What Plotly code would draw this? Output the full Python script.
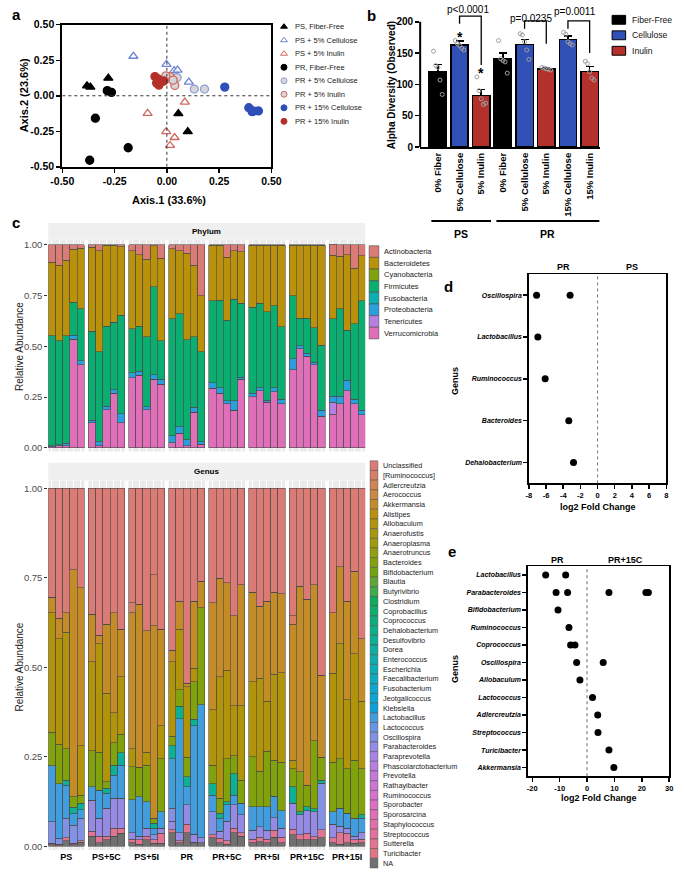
import math
import plotly.graph_objects as go

W, H = 685, 877
FONT = "Liberation Sans, Arial, Helvetica, sans-serif"

# ============================ DATA ============================
# (a) PCoA
pcoa_groups = ["PS, Fiber-Free", "PS + 5% Cellulose", "PS + 5% Inulin", "PR, Fiber-Free",
               "PR + 5% Cellulose", "PR + 5% Inulin", "PR + 15% Cellulose", "PR + 15% Inulin"]
pcoa_x = [
    [-0.382, -0.366, -0.280, 0.055, 0.100],
    [-0.160, -0.002, 0.035, 0.051, 0.105],
    [-0.092, -0.003, 0.037, 0.015, 0.086],
    [-0.285, -0.265, -0.342, -0.185, -0.369],
    [-0.003, 0.018, 0.049, 0.131, 0.180],
    [0.015, 0.038, -0.020, 0.030, -0.005],
    [0.277, 0.392, 0.408, 0.415, 0.438],
    [-0.057, -0.043, -0.049, -0.038, -0.015],
]
pcoa_y = [
    [0.070, 0.061, 0.124, -0.126, -0.253],
    [0.278, 0.221, 0.177, 0.181, 0.096],
    [-0.124, -0.253, -0.294, -0.350, -0.045],
    [0.036, 0.024, -0.158, -0.366, -0.454],
    [0.119, 0.119, 0.128, 0.047, 0.047],
    [0.135, 0.073, 0.100, 0.110, 0.140],
    [0.061, -0.084, -0.112, -0.107, -0.107],
    [0.135, 0.119, 0.089, 0.075, 0.105],
]
pcoa_tickvals = [-0.5, -0.25, 0.0, 0.25, 0.5]
pcoa_ticktext = ["-0.50", "-0.25", "0.00", "0.25", "0.50"]

# (b) alpha diversity
alpha_labels = ["0% Fiber", "5% Cellulose", "5% Inulin", "0% Fiber", "5% Cellulose",
                "5% Inulin", "15% Cellulose", "15% Inulin"]
alpha_fiber = ["Fiber-Free", "Cellulose", "Inulin", "Fiber-Free", "Cellulose",
               "Inulin", "Cellulose", "Inulin"]
alpha_mean = [120, 163, 82, 141, 164, 125, 172, 121]
alpha_sem = [12, 6, 10, 9, 8, 2, 5, 8]
alpha_points = [
    [153, 130, 127, 107, 84],
    [170, 165, 162, 158, 155],
    [112, 90, 77, 68, 70],
    [170, 141, 138, 136, 118],
    [181, 179, 168, 155, 140],
    [127, 126, 125, 124, 123],
    [183, 180, 168, 165, 163],
    [137, 133, 120, 110, 107],
]
alpha_star = [False, True, True, False, False, False, False, False]
alpha_pvals = [(1, 2, "p&lt;0.0001"), (4, 5, "p=0.0235"), (6, 7, "p=0.0011")]
alpha_groups = [("PS", 0, 2), ("PR", 3, 7)]
fiber_types = ["Fiber-Free", "Cellulose", "Inulin"]

# (c) taxa bar plots
facets = ["PS", "PS+5C", "PS+5I", "PR", "PR+5C", "PR+5I", "PR+15C", "PR+15I"]
phylum_names = ["Actinobacteria", "Bacteroidetes", "Cyanobacteria", "Firmicutes",
                "Fusobacteria", "Proteobacteria", "Tenericutes", "Verrucomicrobia"]
actinobacteria = [.087, .10, .077, .023, .018, .013, .029, .003, .003, .01,
                  .031, .05, .071, .006, .066, .021, .031, .042, .10, .252,
                  .003, .003, .061, .029, .034, .002, .002, .003, .002, .002,
                  .002, .002, .002, .002, .002, .053, .058, .05, .115, .055]
bacteroidetes = [.361, .374, .371, .261, .298, .413, .497, .399, .378, .338,
                 .382, .352, .382, .20, .407, .344, .309, .427, .353, .274,
                 .273, .27, .312, .239, .255, .306, .287, .326, .298, .403,
                 .25, .359, .359, .408, .492, .312, .258, .371, .274, .221]
cyanobacteria = [0] * 40
firmicutes = [.542, .51, .53, .161, .255, .439, .444, .393, .332, .484,
              .218, .221, .344, .433, .19, .575, .557, .49, .347, .443,
              .403, .43, .395, .5, .363, .424, .414, .436, .403, .355,
              .309, .136, .173, .169, .322, .382, .431, .247, .371, .54]
fusobacteria = [0] * 40
proteobacteria = [.004, .006, .012, .02, .019, .011, .02, .018, .019, .044,
                  .024, .019, .016, .024, .024, .035, .032, .03, .024, .012,
                  .027, .029, .016, .048, .011, .016, .016, .011, .021, .024,
                  .054, .016, .016, .011, .029, .029, .037, .051, .024, .021]
tenericutes = [0] * 35 + [.06, 0, 0, 0, 0]
verrucomicrobia = [.006, .01, .01, .535, .41, .124, .01, .187, .268, .124,
                   .345, .358, .187, .337, .313, .025, .071, .011, .176, .019,
                   .294, .268, .216, .184, .337, .252, .281, .224, .276, .216,
                   .385, .487, .45, .41, .155, .165, .216, .281, .216, .163]

genus_names = ["Unclassified", "[Ruminococcus]", "Adlercreutzia", "Aerococcus", "Akkermansia",
               "Alistipes", "Allobaculum", "Anaerofustis", "Anaeroplasma", "Anaerotruncus",
               "Bacteroides", "Bifidobacterium", "Blautia", "Butyrivibrio", "Clostridium",
               "Coprobacillus", "Coprococcus", "Dehalobacterium", "Desulfovibrio", "Dorea",
               "Enterococcus", "Escherichia", "Faecalibacterium", "Fusobacterium", "Jeotgalicoccus",
               "Klebsiella", "Lactobacillus", "Lactococcus", "Oscillospira", "Parabacteroides",
               "Paraprevotella", "Phascolarctobacterium", "Prevotella", "Rathayibacter", "Ruminococcus",
               "Sporobacter", "Sporosarcina", "Staphylococcus", "Streptococcus", "Sutterella",
               "Turicibacter", "NA"]
g_unclassified = [.304, .363, .347, .228, .278, .352, .411, .379, .347, .393,
                  .32, .324, .398, .242, .393, .453, .315, .545, .315, .26,
                  .32, .251, .264, .356, .269, .29, .33, .315, .29, .295,
                  .356, .274, .31, .269, .522, .347, .219, .315, .232, .42]
g_ruminococcus_br = [0] * 10 + [.027, 0, 0, .142, 0] + [0] * 15 + [.023, 0, 0, 0, 0] + [0] * 5
g_akkermansia = [.043, .057, .055, .633, .441, .133, .023, .193, .28, .133,
                 .381, .455, .339, .537, .27, .032, .078, .009, .188, .073,
                 .298, .275, .244, .252, .339, .25, .2, .28, .23, .22,
                 .381, .518, .519, .436, .229, .17, .215, .275, .23, .175]
g_allobaculum = [.334, .295, .326, 0, .138, .248, .303, .248, .083, .161,
                 .05, 0, .037, 0, .092, .207, .17, .197, .037, 0,
                 .156, .34, .248, .139, .207, .21, .26, .14, .24, .25,
                 .023, 0, 0, 0, 0, .248, .321, .193, .298, .188]
g_bacteroides = [.094, .11, .087, .03, .023, .101, .106, .018, .064, .051,
                 .092, .083, .101, .014, .148, .027, .046, .055, .105, .271,
                 .051, .041, .119, .05, .065, .14, .1, .155, .1, .135,
                 .05, .111, .061, .19, .064, .138, .138, .124, .161, .129]
g_desulfovibrio = [0, 0, .014, .018, .018, 0, 0, .014, .028, .036,
                   0, 0, 0, .014, 0, .037, .035, .028, .018, 0,
                   .032, .014, .009, .06, 0, 0, 0, 0, 0, 0,
                   .046, .009, .01, .009, .009, 0, 0, 0, 0, .009]
g_lactobacillus = [.156, .152, .092, .032, .023, .037, .078, .041, .064, .092,
                   .092, .11, .074, .018, .046, .137, .318, .05, .303, .372,
                   .046, .037, .046, .027, .032, .065, .055, .065, .06, .05,
                   0, 0, 0, 0, 0, .036, .051, .042, .051, .041]
g_oscillospira = [.06, .017, .055, .051, .064] + [0] * 10 + [.037, 0, 0, 0, 0] + \
                 [.064, 0, 0, 0, 0] + [0] * 5 + [0, 0, 0, 0, .129] + [0] * 5
g_parabacteroides = [0, 0, 0, 0, 0, .087, .051, .079, .083, .083,
                     .018, .01, .023, .015, .014, .023, .023, .055, .023, .014,
                     0, .019, .055, .065, .05, .025, .03, .025, .035, .025,
                     .073, .055, .063, .069, 0, .037, .018, .014, .01, .018]
g_sutterella = [.005, .004, .009, .003, .003, .014, .018, .01, .023, .014,
                .01, .012, .01, .009, .028, .009, .005, .023, 0, 0,
                .009, .013, .009, .013, .01, .01, .012, .01, .02, .015,
                .015, .014, .018, .009, .023, .014, .032, .027, .01, .01]
g_na = [.004, .002, .015, .005, .012, .028, .01, .018, .028, .037,
        .01, .006, .018, .009, .009, .038, .01, .038, .011, .01,
        .024, .01, .006, .038, .028, .01, .013, .01, .025, .01,
        .033, .019, .019, .018, .024, .01, .006, .01, .008, .01]
genus_series = {
    "Unclassified": g_unclassified, "[Ruminococcus]": g_ruminococcus_br,
    "Akkermansia": g_akkermansia, "Allobaculum": g_allobaculum,
    "Bacteroides": g_bacteroides, "Desulfovibrio": g_desulfovibrio,
    "Lactobacillus": g_lactobacillus, "Oscillospira": g_oscillospira,
    "Parabacteroides": g_parabacteroides, "Sutterella": g_sutterella, "NA": g_na,
}
phylum_series = {
    "Actinobacteria": actinobacteria, "Bacteroidetes": bacteroidetes,
    "Cyanobacteria": cyanobacteria, "Firmicutes": firmicutes, "Fusobacteria": fusobacteria,
    "Proteobacteria": proteobacteria, "Tenericutes": tenericutes,
    "Verrucomicrobia": verrucomicrobia,
}
abund_ticks = [0, 0.25, 0.5, 0.75, 1.0]
abund_ticktext = ["0.00", "0.25", "0.50", "0.75", "1.00"]

# (d) PR vs PS
d_genera = ["Oscillospira", "Lactobacillus", "Ruminococcus", "Bacteroides", "Dehalobacterium"]
d_fc = [[-7.1, -3.2], [-6.95], [-6.1], [-3.35], [-2.8]]
d_ticks = [-8, -6, -4, -2, 0, 2, 4, 6, 8]
# (e) PR vs PR+15C
e_genera = ["Lactobacillus", "Parabacteroides", "Bifidobacterium", "Ruminococcus", "Coprococcus",
            "Oscillospira", "Allobaculum", "Lactococcus", "Adlercreutzia", "Streptococcus",
            "Turicibacter", "Akkermansia"]
e_fc = [[-15.1, -7.8], [-11.3, -7.1, 8.0, 21.5, 22.4], [-10.6], [-6.6], [-6.0, -4.4],
        [-3.8, 5.9], [-2.6], [2.0], [3.9], [4.0], [8.0], [9.8]]
e_ticks = [-20, -10, 0, 10, 20, 30]

# ============================ HELPERS ============================
def dom_x(a, b):
    return [a / W, b / W]

def dom_y(top, bot):
    return [1 - bot / H, 1 - top / H]

def PX(x):
    return x / W

def PY(y):
    return 1 - y / H

def hcl_rgb(h, c=100.0, l=65.0):
    hr = math.radians(h)
    u, v = c * math.cos(hr), c * math.sin(hr)
    Xn, Yn, Zn = 95.047, 100.0, 108.883
    Y = Yn * ((l + 16) / 116) ** 3
    den = Xn + 15 * Yn + 3 * Zn
    un, vn = 4 * Xn / den, 9 * Yn / den
    up, vp = u / (13 * l) + un, v / (13 * l) + vn
    X = Y * 9 * up / (4 * vp)
    Z = Y * (12 - 3 * up - 20 * vp) / (4 * vp)
    X, Y, Z = X / 100, Y / 100, Z / 100
    r = 3.2404542 * X - 1.5371385 * Y - 0.4985314 * Z
    g = -0.9692660 * X + 1.8760108 * Y + 0.0415560 * Z
    b = 0.0556434 * X - 0.2040259 * Y + 1.0572252 * Z

    def gam(t):
        t = max(0.0, min(1.0, t))
        t = 12.92 * t if t <= 0.0031308 else 1.055 * t ** (1 / 2.4) - 0.055
        return t * 255
    return gam(r), gam(g), gam(b)

def mute(rgb, k=0.9, base=110):
    return "rgb(%d,%d,%d)" % tuple(round(k * c + (1 - k) * base) for c in rgb)

def hue_pal(n):
    return [mute(hcl_rgb(15 + 360 * i / n, c=80, l=64)) for i in range(n)]

def fnt(size, bold=False, italic=False, color="#000000"):
    f = dict(family=FONT, size=size, color=color)
    if bold:
        f["weight"] = "bold"
    if italic:
        f["style"] = "italic"
    return f

annotations = []
shapes = []

def ann(text, x, y, size=9, bold=False, italic=False, color="#000000", xanchor="center",
        yanchor="middle", angle=0, xref="paper", yref="paper"):
    annotations.append(dict(text=text, x=x, y=y, xref=xref, yref=yref, showarrow=False,
                            font=fnt(size, bold, italic, color), xanchor=xanchor,
                            yanchor=yanchor, textangle=angle, borderpad=0))

def ann_px(text, x, y, **kw):
    ann(text, PX(x), PY(y), **kw)

def rect_px(x0, y0, x1, y1, fill, lc=None, lw=0, layer="above"):
    shapes.append(dict(type="rect", xref="paper", yref="paper", x0=PX(x0), x1=PX(x1),
                       y0=PY(y1), y1=PY(y0), fillcolor=fill,
                       line=dict(color=lc or fill, width=lw), layer=layer))

fig = go.Figure()

# ============================ PANEL A ============================
a_style = [
    ("triangle-up", "#000000", "#000000"),
    ("triangle-up", "rgba(255,255,255,0.75)", "#6F84D6"),
    ("triangle-up", "rgba(255,255,255,0.75)", "#D2675F"),
    ("circle", "#000000", "#000000"),
    ("circle", "#D6D6D6", "#8E9ED8"),
    ("circle", "#D6D6D6", "#D2675F"),
    ("circle", "#2F4FB8", "#2F4FB8"),
    ("circle", "#B5302B", "#B5302B"),
]
for gi, name in enumerate(pcoa_groups):
    sym, fc, ec = a_style[gi]
    fig.add_trace(go.Scatter(x=pcoa_x[gi], y=pcoa_y[gi], mode="markers", name=name,
                             marker=dict(symbol=sym, size=8, color=fc, line=dict(color=ec, width=1.3)),
                             xaxis="x", yaxis="y", showlegend=False))
    ry = 21 + 13.7 * gi
    fig.add_trace(go.Scatter(x=[281], y=[ry], mode="markers",
                             marker=dict(symbol=sym, size=6, color=fc, line=dict(color=ec, width=1)),
                             xaxis="x7", yaxis="y7", showlegend=False))
    ann_px(name, 291, ry, size=7.5, xanchor="left", color="#222222")

shapes.append(dict(type="line", xref="x", yref="y", x0=0, x1=0, y0=-0.5, y1=0.5,
                   line=dict(color="#333333", width=1, dash="dot")))
shapes.append(dict(type="line", xref="x", yref="y", x0=-0.5, x1=0.5, y0=0, y1=0,
                   line=dict(color="#333333", width=1, dash="dot")))
ann_px("Axis.2 (23.6%)", 12, 91, size=11, bold=True, angle=-90)
ann_px("Axis.1 (33.6%)", 162, 197, size=11, bold=True)
ann_px("a", 5, 9, size=15, bold=True)

# ============================ PANEL B ============================
fiber_colors = {"Fiber-Free": "#000000", "Cellulose": "#3150B5", "Inulin": "#B3302B"}
alpha_x = list(range(len(alpha_labels)))
fig.add_trace(go.Bar(x=alpha_x, y=alpha_mean, width=0.8,
                     marker=dict(color=[fiber_colors[f] for f in alpha_fiber],
                                 line=dict(color="#000000", width=1.5)),
                     error_y=dict(type="data", symmetric=False, array=alpha_sem,
                                  arrayminus=[0] * len(alpha_sem), color="#000000",
                                  thickness=1.5, width=4),
                     xaxis="x2", yaxis="y2", showlegend=False))
JIT = [-0.2, -0.1, 0.0, 0.1, 0.2]
ptx, pty = [], []
for i, pts in enumerate(alpha_points):
    for k, v in enumerate(pts):
        ptx.append(alpha_x[i] + JIT[k % len(JIT)])
        pty.append(v)
fig.add_trace(go.Scatter(x=ptx, y=pty, mode="markers",
                         marker=dict(symbol="circle-open", size=4, color="#A0A0A0",
                                     line=dict(width=1)),
                         xaxis="x2", yaxis="y2", showlegend=False))
for i, s in enumerate(alpha_star):
    if s:
        ann("*", alpha_x[i], max(alpha_points[i]) + 6, size=14, bold=True, xref="x2", yref="y2",
            yanchor="middle")
# significance brackets: (top, left-leg bottom, right-leg bottom, text y, text x shift)
bracket_geom = [(209, 197, 131, 219, -0.12), (201.6, 189, 165, 206, -0.2), (201.6, 189, 150, 216, -0.17)]
for (a0, a1, lab), (top, lb, rb, ty, dxs) in zip(alpha_pvals, bracket_geom):
    shapes.append(dict(type="path", xref="x2", yref="y2",
                       path="M %f,%f L %f,%f L %f,%f L %f,%f" % (a0, lb, a0, top, a1, top, a1, rb),
                       line=dict(color="#000000", width=1.3)))
    ann(lab, (a0 + a1) / 2 + dxs, ty, size=10, xref="x2", yref="y2")
shapes.append(dict(type="line", xref="x2 domain", yref="y2", x0=0, x1=0, y0=0, y1=200,
                   line=dict(color="#000000", width=2)))
for lab, i0, i1 in alpha_groups:
    shapes.append(dict(type="line", xref="x2", yref="paper", x0=i0 - 0.3, x1=i1 + 0.45,
                       y0=PY(218), y1=PY(218), line=dict(color="#000000", width=2)))
    ann(lab, (i0 + i1) / 2 + 0.07, PY(231), size=10.5, bold=True, xref="x2")
for k, ft in enumerate(fiber_types):
    cy = 14 + 15.7 * k
    rect_px(620, cy - 4.5, 634, cy + 4.5, fiber_colors[ft], "#000000", 1)
    ann_px(ft, 640, cy, size=8.6, xanchor="left", color="#111111")
ann_px("Alpha Diversity (Observed)", 393, 80, size=10, bold=True, angle=-90)
ann_px("b", 371, 10, size=15, bold=True)

# ============================ PANEL C ============================
GAP = 0.55
NPER = 5
bar_pos = [f * (NPER + GAP) + j for f in range(len(facets)) for j in range(NPER)]
facet_centers = [f * (NPER + GAP) + (NPER - 1) / 2 for f in range(len(facets))]
c_range = [-0.5, (len(facets) - 1) * (NPER + GAP) + NPER - 0.5]

phylum_cols = hue_pal(len(phylum_names))
for name in reversed(phylum_names):
    vals = phylum_series[name]
    if sum(vals) == 0:
        continue
    col = phylum_cols[phylum_names.index(name)]
    fig.add_trace(go.Bar(x=bar_pos, y=vals, width=1, name=name,
                         marker=dict(color=col, line=dict(color="#4A4A4A", width=0.6)),
                         xaxis="x3", yaxis="y3", showlegend=False))

genus_cols = hue_pal(len(genus_names) - 1) + ["rgb(112,112,112)"]
for name in reversed(genus_names):
    if name not in genus_series:
        continue
    vals = genus_series[name]
    col = genus_cols[genus_names.index(name)]
    fig.add_trace(go.Bar(x=bar_pos, y=vals, width=1, name=name,
                         marker=dict(color=col, line=dict(color="#4A4A4A", width=0.6)),
                         xaxis="x4", yaxis="y4", showlegend=False))

p_rng = [-(452 - 448) / 206, 1 + (242 - 237) / 206]
g_rng = [-(856 - 852) / 363, 1 + (489 - 481) / 363]
for f in range(len(facets)):
    x0 = f * (NPER + GAP) - 0.5
    x1 = x0 + NPER
    shapes.append(dict(type="rect", xref="x3", yref="y3", x0=x0, x1=x1, y0=p_rng[0], y1=p_rng[1],
                       fillcolor="#EBEBEB", line=dict(width=0), layer="below"))
    shapes.append(dict(type="rect", xref="x4", yref="y4", x0=x0, x1=x1, y0=g_rng[0], y1=g_rng[1],
                       fillcolor="#EBEBEB", line=dict(width=0), layer="below"))
rect_px(37.5, 220, 365, 237, "#EFEFEF", layer="below")
rect_px(37.5, 463, 365, 481, "#EFEFEF", layer="below")
ann_px("Phylum", 201, 228.5, size=8, bold=True)
ann_px("Genus", 201, 472, size=8, bold=True)
ann_px("Relative Abundance", 8, 345, size=10, angle=-90, color="#1A1A1A")
ann_px("Relative Abundance", 8, 670, size=10, angle=-90, color="#1A1A1A")
ann_px("c", 4, 219, size=15, bold=True)

for i, name in enumerate(phylum_names):
    cy = 249 + 11.8 * i
    rect_px(369, cy - 5.9, 379, cy + 5.9, phylum_cols[i], "#4A4A4A", 0.6)
    ann_px(name, 383, cy, size=7.5, xanchor="left", color="#1A1A1A")
for i, name in enumerate(genus_names):
    cy = 466 + 9.83 * i
    rect_px(370, cy - 4.9, 378, cy + 4.9, genus_cols[i], "#4A4A4A", 0.5)
    ann_px(name, 382, cy, size=7.3, xanchor="left", color="#1A1A1A")

# ============================ PANEL D ============================
dx_, dy_ = [], []
for gname, vals in zip(d_genera, d_fc):
    for v in vals:
        dx_.append(v)
        dy_.append(gname)
fig.add_trace(go.Scatter(x=dx_, y=dy_, mode="markers", marker=dict(size=7, color="#000000"),
                         xaxis="x5", yaxis="y5", showlegend=False))
shapes.append(dict(type="line", xref="x5", yref="y5 domain", x0=0, x1=0, y0=0, y1=1,
                   line=dict(color="#777777", width=1, dash="dot")))
ann("PR", -4, PY(265), size=9, bold=True, xref="x5")
ann("PS", 4, PY(265), size=9, bold=True, xref="x5")
ann_px("log2 Fold Change", 605, 508, size=9, bold=True)
ann_px("Genus", 458, 380, size=9, bold=True, angle=-90)
ann_px("d", 451, 284, size=15, bold=True)

# ============================ PANEL E ============================
ex_, ey_ = [], []
for gname, vals in zip(e_genera, e_fc):
    for v in vals:
        ex_.append(v)
        ey_.append(gname)
fig.add_trace(go.Scatter(x=ex_, y=ey_, mode="markers", marker=dict(size=7, color="#000000"),
                         xaxis="x6", yaxis="y6", showlegend=False))
shapes.append(dict(type="line", xref="x6", yref="y6 domain", x0=0, x1=0, y0=0, y1=1,
                   line=dict(color="#999999", width=1.5, dash="dot")))
ann("PR", -10.8, PY(562), size=9, bold=True, xref="x6")
ann("PR+15C", 14, PY(562), size=9, bold=True, xref="x6")
ann_px("log2 Fold Change", 606, 803, size=9, bold=True)
ann_px("Genus", 458, 672, size=9, bold=True, angle=-90)
ann_px("e", 455, 553, size=15, bold=True)

# ============================ LAYOUT ============================
gp_axis = dict(showline=True, linecolor="#000000", linewidth=1.5, mirror=True, ticks="outside",
               ticklen=4, tickwidth=1.5, tickcolor="#000000", showgrid=False, zeroline=False)

fig.update_layout(
    width=W, height=H, margin=dict(l=0, r=0, t=0, b=0),
    paper_bgcolor="#FFFFFF", plot_bgcolor="rgba(0,0,0,0)",
    barmode="stack", hovermode=False, showlegend=False,
    font=dict(family=FONT, color="#000000"),
    xaxis=dict(domain=dom_x(52, 268), range=[-0.5, 0.5], tickvals=pcoa_tickvals,
               ticktext=pcoa_ticktext, tickfont=fnt(10.5, True), anchor="y",
               **{**gp_axis, "linewidth": 2}),
    yaxis=dict(domain=dom_y(19, 163), range=[-0.5, 0.5], tickvals=pcoa_tickvals,
               ticktext=pcoa_ticktext, tickfont=fnt(10.5, True), anchor="x",
               **{**gp_axis, "linewidth": 2}),
    xaxis2=dict(domain=dom_x(421.7, 608), range=[-0.817, 7.5], tickvals=alpha_x,
                ticktext=alpha_labels, tickangle=-90, tickfont=fnt(9.5, True), ticks="",
                showline=True, linecolor="#000000", linewidth=2, showgrid=False,
                zeroline=False, anchor="y2"),
    yaxis2=dict(domain=dom_y(0, 143), range=[0, 225.2], tickvals=[0, 50, 100, 150, 200],
                tickfont=fnt(10, True), ticks="outside", ticklen=4, tickwidth=1.5,
                tickcolor="#000000", showline=False, showgrid=False, zeroline=False, anchor="x2"),
    xaxis3=dict(domain=dom_x(37.5, 365), range=c_range, showticklabels=False, ticks="",
                showgrid=False, zeroline=False, showline=False, anchor="y3",
                minor=dict(tickvals=bar_pos, showgrid=True, gridcolor="#FFFFFF", gridwidth=1, ticks="")),
    yaxis3=dict(domain=dom_y(237, 452), range=p_rng, tickvals=abund_ticks, ticktext=abund_ticktext,
                tickfont=fnt(9.5, color="#4D4D4D"), ticks="outside", ticklen=3, tickcolor="#333333",
                showgrid=True, gridcolor="#FFFFFF", zeroline=False, showline=False, anchor="x3"),
    xaxis4=dict(domain=dom_x(37.5, 365), range=c_range, tickvals=facet_centers, ticktext=facets,
                tickfont=fnt(9, True), ticks="", showgrid=False, zeroline=False, showline=False,
                anchor="y4",
                minor=dict(tickvals=bar_pos, showgrid=True, gridcolor="#FFFFFF", gridwidth=1, ticks="")),
    yaxis4=dict(domain=dom_y(481, 856), range=g_rng, tickvals=abund_ticks, ticktext=abund_ticktext,
                tickfont=fnt(9.5, color="#4D4D4D"), ticks="outside", ticklen=3, tickcolor="#333333",
                showgrid=True, gridcolor="#FFFFFF", zeroline=False, showline=False, anchor="x4"),
    xaxis5=dict(domain=dom_x(534, 676), range=[-8, 8], tickvals=d_ticks,
                ticktext=[str(t) for t in d_ticks], tickfont=fnt(7.5, True), anchor="y5", **gp_axis),
    yaxis5=dict(domain=dom_y(272, 484), type="category", categoryorder="array",
                categoryarray=d_genera, range=[len(d_genera) - 0.5, -0.5],
                tickfont=fnt(7, True, True, "#000000"), anchor="x5", **gp_axis),
    xaxis6=dict(domain=dom_x(533, 679), range=[-21.6, 30], tickvals=e_ticks,
                ticktext=[str(t) for t in e_ticks], tickfont=fnt(7.5, True), anchor="y6", **gp_axis),
    yaxis6=dict(domain=dom_y(568, 781), type="category", categoryorder="array",
                categoryarray=e_genera, range=[len(e_genera) - 0.5, -0.5],
                tickfont=fnt(7, True, True, "#000000"), anchor="x6", **gp_axis),
    xaxis7=dict(domain=[0, 1], range=[0, W], visible=False, anchor="y7", fixedrange=True),
    yaxis7=dict(domain=[0, 1], range=[H, 0], visible=False, anchor="x7", fixedrange=True),
    annotations=annotations,
    shapes=shapes,
)

fig.write_html("out.html", config={"displayModeBar": False, "staticPlot": True},
               post_script="document.body.style.margin='0px';")
